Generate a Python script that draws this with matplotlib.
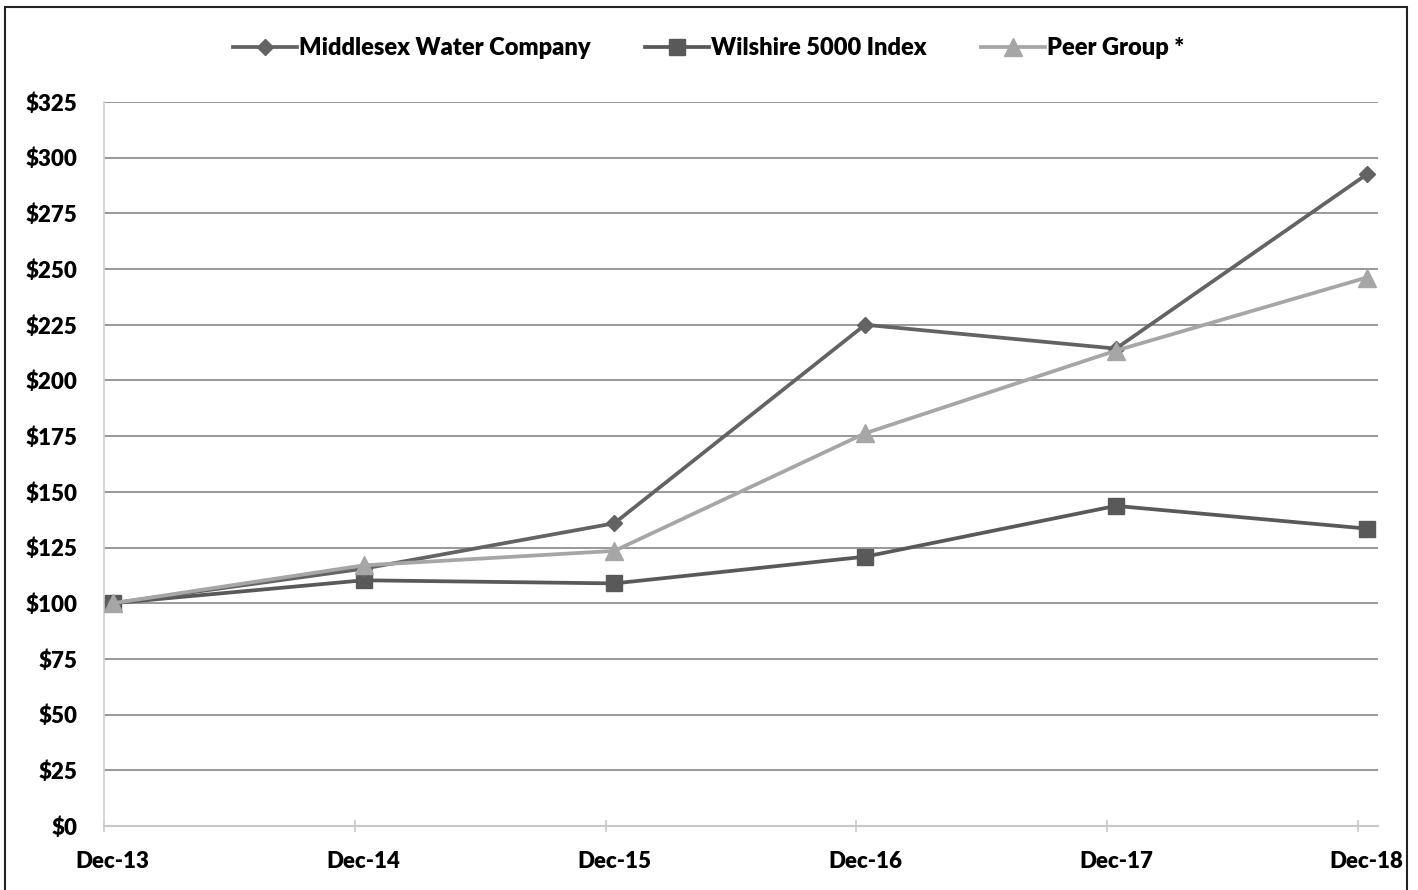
import numpy as np
import matplotlib.pyplot as plt
from matplotlib.patches import Rectangle

# data (cumulative value of $100 invested)
years = ['Dec-13', 'Dec-14', 'Dec-15', 'Dec-16', 'Dec-17', 'Dec-18']
middlesex = [100, 115.5, 135.9, 225.0, 214.3, 292.5]
wilshire = [100, 110.3, 108.9, 120.9, 143.7, 133.5]
peer = [100, 117.0, 123.5, 176.3, 213.4, 246.2]
y_ticks = list(range(0, 326, 25))

plt.rcParams['font.family'] = ['Lato', 'DejaVu Sans']
plt.rcParams['font.weight'] = 'heavy'

fig = plt.figure(figsize=(14.18, 8.9), dpi=100)
ax = fig.add_axes([104 / 1418, 64 / 890, 1274 / 1418, 724 / 890])

x = np.arange(len(years))
shift = 0.035  # points sit slightly right of the tick marks
xs = x + shift

ax.plot(xs, middlesex, color='#636363', lw=2.7, marker='D', ms=8.5,
        label='Middlesex Water Company', clip_on=False, zorder=4)
ax.plot(xs, wilshire, color='#595959', lw=2.7, marker='s', ms=12,
        label='Wilshire 5000 Index', clip_on=False, zorder=3)
ax.plot(xs, peer, color='#a6a6a6', lw=2.7, marker='^', ms=12.5,
        label='Peer Group *', clip_on=False, zorder=5)

ax.set_xlim(0, 5.08)
ax.set_ylim(0, 325)

ax.set_yticks(y_ticks)
ax.set_yticklabels(['${}'.format(v) for v in y_ticks], fontsize=16, fontweight='heavy')
ax.tick_params(axis='y', length=0, pad=19)
ax.yaxis.grid(True, color='#868686', lw=1.2)
ax.set_axisbelow(True)

# tick marks at the category edges, labels under the points
ax.set_xticks(x)
ax.set_xticklabels([])
ax.tick_params(axis='x', which='major', direction='inout', length=9, width=1.2, color='#c8c8c8')
ax.set_xticks(xs, minor=True)
ax.set_xticklabels(years, minor=True, fontsize=16, fontweight='heavy')
ax.tick_params(axis='x', which='minor', length=0, pad=18)

for s in ['top', 'right']:
    ax.spines[s].set_visible(False)
ax.spines['bottom'].set_color('#c8c8c8')
ax.spines['bottom'].set_linewidth(1.5)
ax.spines['left'].set_color('#d0d0d0')
ax.spines['left'].set_linewidth(1.2)

fig.legend(loc='center', bbox_to_anchor=(0.5, 1 - 48 / 890), ncol=3, frameon=False,
           prop={'size': 17, 'weight': 'heavy'}, handlelength=2.7, handletextpad=0.1,
           columnspacing=2.3)

# outer frame
fig.patches.append(Rectangle((5 / 1418, -0.02), 1402 / 1418, 1.02 - 7 / 890,
                             transform=fig.transFigure, fill=False,
                             edgecolor='#222222', lw=1.5))

fig.savefig('out.png', dpi=100)
